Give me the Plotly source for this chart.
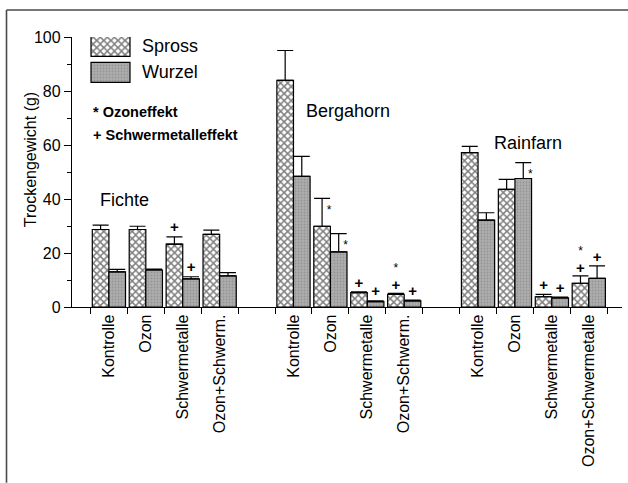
import plotly.graph_objects as go

# ---------------- data ----------------
species = ["Fichte", "Bergahorn", "Rainfarn"]
treat_short = ["Kontrolle", "Ozon", "Schwermetalle", "Ozon+Schwerm."]
treat_long = ["Kontrolle", "Ozon", "Schwermetalle", "Ozon+Schwermetalle"]

spross_fichte = [28.7, 28.7, 23.3, 26.9]
spross_fichte_err = [1.6, 1.2, 2.7, 1.6]
wurzel_fichte = [13.0, 13.7, 10.4, 11.5]
wurzel_fichte_err = [0.9, 0.3, 0.8, 1.2]

spross_berg = [83.9, 29.9, 5.3, 4.7]
spross_berg_err = [11.1, 10.3, 0.3, 0.4]
wurzel_berg = [48.4, 20.4, 2.0, 2.3]
wurzel_berg_err = [7.4, 6.8, 0.3, 0.3]

spross_rain = [57.2, 43.6, 3.8, 8.8]
spross_rain_err = [2.3, 3.7, 0.9, 2.7]
wurzel_rain = [32.2, 47.6, 3.4, 10.6]
wurzel_rain_err = [2.7, 5.9, 0.3, 4.6]

# significance marks: "*" Ozoneffekt, "+" Schwermetalleffekt
spross_sig = ["", "", "+", "",   "", "*", "+", "*+",   "", "", "+", "*+"]
wurzel_sig = ["", "", "+", "",   "", "*", "+", "+",    "", "*", "+", "+"]

y_ticks = [0, 20, 40, 60, 80, 100]

# ---------------- layout helpers ----------------
FONT = "Liberation Sans, Arial, Helvetica, sans-serif"
L, R, T, B = 72, 6, 36.5, 176
W, H = 628, 483
PW, PH = W - L - R, H - T - B


def px(x):
    return (x - L) / PW


def py(y):
    return (H - B - y) / PH


labels = treat_short + treat_short + treat_long
xpos = [g * 5 + j for g in range(3) for j in range(4)]
spross = spross_fichte + spross_berg + spross_rain
spross_err = spross_fichte_err + spross_berg_err + spross_rain_err
wurzel = wurzel_fichte + wurzel_berg + wurzel_rain
wurzel_err = wurzel_fichte_err + wurzel_berg_err + wurzel_rain_err
bounds = sorted({x - 0.5 for x in xpos} | {x + 0.5 for x in xpos})

BARW = 0.45
SPROSS_PAT = dict(shape="x", fgcolor="black", bgcolor="white", size=5, solidity=0.5)
WURZEL_PAT = dict(shape=".", fgcolor="#7c7c7c", bgcolor="#adadad", size=3, solidity=0.3)

fig = go.Figure()

fig.add_trace(go.Bar(
    x=xpos, y=spross, name="Spross", width=BARW, offset=-BARW,
    marker=dict(color="white", line=dict(color="black", width=1.2), pattern=SPROSS_PAT),
    error_y=dict(type="data", array=spross_err, arrayminus=[0] * 12,
                 symmetric=False, color="black", thickness=1.2, width=8),
    showlegend=False,
))
fig.add_trace(go.Bar(
    x=xpos, y=wurzel, name="Wurzel", width=BARW, offset=0,
    marker=dict(color="#a6a6a6", line=dict(color="black", width=1.2), pattern=WURZEL_PAT),
    error_y=dict(type="data", array=wurzel_err, arrayminus=[0] * 12,
                 symmetric=False, color="black", thickness=1.2, width=8),
    showlegend=False,
))

# significance markers
plus_x, plus_y, star_x, star_y = [], [], [], []
for vals, errs, sigs, off in [(spross, spross_err, spross_sig, -BARW / 2),
                              (wurzel, wurzel_err, wurzel_sig, BARW / 2)]:
    for x, v, e, s in zip(xpos, vals, errs, sigs):
        top = v + e
        if s == "*":
            star_x.append(x + off + 0.19)
            star_y.append(top - 4.5)
        elif s == "+":
            plus_x.append(x + off)
            plus_y.append(top + 3.0)
        elif s == "*+":
            plus_x.append(x + off)
            plus_y.append(top + 2.6)
            star_x.append(x + off)
            star_y.append(top + 8.8)

fig.add_trace(go.Scatter(x=plus_x, y=plus_y, mode="text", text=["<b>+</b>"] * len(plus_x),
                         textfont=dict(family=FONT, size=15, color="black"),
                         textposition="middle center", showlegend=False,
                         cliponaxis=False))
fig.add_trace(go.Scatter(x=star_x, y=star_y, mode="text", text=["*"] * len(star_x),
                         textfont=dict(family=FONT, size=12, color="black"),
                         textposition="middle center", showlegend=False,
                         cliponaxis=False))

# legend swatches drawn on a hidden pixel-scaled axis
for name, col, pat, yc in [("Spross", "white", SPROSS_PAT, 46),
                           ("Wurzel", "#a6a6a6", WURZEL_PAT, 72)]:
    fig.add_trace(go.Bar(
        y=[yc], x=[39], base=[91], width=[20], orientation="h",
        marker=dict(color=col, line=dict(color="black", width=1.2), pattern=pat),
        xaxis="x2", yaxis="y2", showlegend=False, hoverinfo="skip",
    ))

annotations = [
    dict(text="Spross", x=px(140), y=py(46), font=dict(size=18)),
    dict(text="Wurzel", x=px(140), y=py(72), font=dict(size=18)),
    dict(text="<b>* Ozoneffekt</b>", x=px(91), y=py(112), font=dict(size=14.5)),
    dict(text="<b>+ Schwermetalleffekt</b>", x=px(91), y=py(135), font=dict(size=14.5)),
    dict(text=species[0], x=px(98), y=py(200), font=dict(size=18)),
    dict(text=species[1], x=px(304), y=py(111), font=dict(size=18)),
    dict(text=species[2], x=px(492), y=py(143), font=dict(size=18)),
]
for a in annotations:
    a.update(xref="paper", yref="paper", xanchor="left", yanchor="middle",
             showarrow=False)
    a["font"].update(family=FONT, color="black")
annotations.append(dict(text="Trockengewicht (g)", x=px(30), y=py(160),
                        xref="paper", yref="paper", xanchor="center", yanchor="middle",
                        textangle=-90, showarrow=False,
                        font=dict(family=FONT, size=16, color="black")))

shapes = [
    dict(type="line", xref="paper", yref="paper", x0=px(6.5), x1=px(628),
         y0=py(9.5), y1=py(9.5), line=dict(color="#4a4a4a", width=1.6)),
    dict(type="line", xref="paper", yref="paper", x0=px(6.5), x1=px(6.5),
         y0=py(9.5), y1=py(483), line=dict(color="#4a4a4a", width=1.6)),
]

fig.update_layout(
    width=W, height=H,
    margin=dict(l=L, r=R, t=T, b=B, pad=0),
    paper_bgcolor="white", plot_bgcolor="white",
    font=dict(family=FONT, color="black"),
    barmode="overlay",
    annotations=annotations, shapes=shapes,
    xaxis=dict(range=[-1.0, 13.9], tickmode="array", tickvals=xpos, ticktext=labels,
               tickangle=-90, ticks="", showgrid=False, zeroline=False,
               showline=True, linecolor="black", linewidth=1.3,
               tickfont=dict(family=FONT, size=16, color="black"),
               minor=dict(tickmode="array", tickvals=bounds, ticks="outside",
                          ticklen=6, tickwidth=1.3, tickcolor="black", showgrid=False)),
    yaxis=dict(range=[0, 100], tickmode="array", tickvals=y_ticks,
               ticks="outside", ticklen=7, tickwidth=1.3, tickcolor="black",
               showgrid=False, zeroline=False, showline=True, linecolor="black",
               linewidth=1.3, tickfont=dict(family=FONT, size=16, color="black"),
               minor=dict(dtick=10, tick0=0, ticks="outside", ticklen=4,
                          tickwidth=1.3, tickcolor="black", showgrid=False)),
    xaxis2=dict(range=[L, W - R], overlaying="x", visible=False, fixedrange=True),
    yaxis2=dict(range=[H - B, T], overlaying="y", visible=False, fixedrange=True),
)

fig.write_html("out.html", config={"displayModeBar": False},
               post_script="document.body.style.margin='0px';document.body.style.overflow='hidden';")
